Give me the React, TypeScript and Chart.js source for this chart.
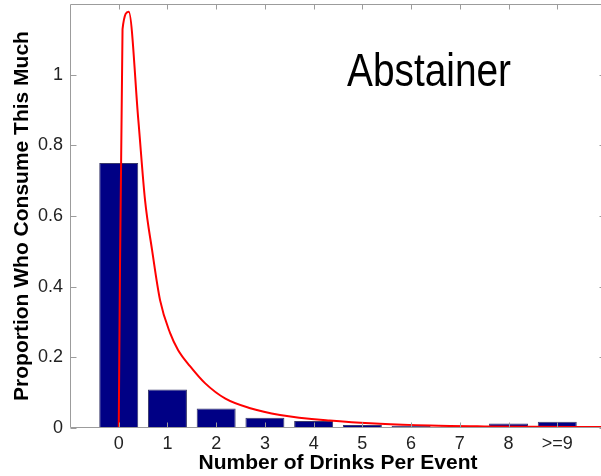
import { useEffect, useRef } from "react";
import { Chart, registerables } from "chart.js";

Chart.register(...registerables);

// Drinks-per-event categories and their labels
const drinkCategories = [0, 1, 2, 3, 4, 5, 6, 7, 8, 9];
const categoryLabels = ["0", "1", "2", "3", "4", "5", "6", "7", "8", ">=9"];

// Observed proportion of abstainers in each category
const observedProportions = [0.75, 0.109, 0.055, 0.029, 0.02, 0.0085, 0.0065, 0.004, 0.013, 0.018];

// Fitted density curve (x in drinks, y in proportion)
const fitX = [0, 0.078, 0.205, 0.402, 0.54, 0.684, 0.848, 1.053, 1.217, 1.463, 1.77, 2.19, 2.7, 3.31, 4.33, 5.36, 6.39, 7.5, 8.5, 10];
const fitY = [0, 1.129, 1.178, 0.872, 0.645, 0.504, 0.362, 0.269, 0.221, 0.175, 0.127, 0.083, 0.056, 0.037, 0.021, 0.0118, 0.0068, 0.0045, 0.0035, 0.0025];

const yTickValues = [0, 0.2, 0.4, 0.6, 0.8, 1];

const panelTitle = "Abstainer";
const xTitle = "Number of Drinks Per Event";
const yTitle = "Proportion Who Consume This Much";

const FONT = "'Liberation Sans', Arial, Helvetica, sans-serif";

// Box frame with inward-pointing tick marks on all four sides, plus the panel title
const framePlugin = {
  id: "boxFrame",
  afterDatasetsDraw(chart: any) {
    const { ctx, chartArea: a, scales } = chart;
    const x = scales.x;
    const y = scales.y;
    const l = Math.round(a.left) + 0.5;
    const r = Math.round(a.right) - 0.5;
    const t = Math.round(a.top) + 0.5;
    const b = Math.round(a.bottom) - 0.5;
    ctx.save();
    ctx.strokeStyle = "#9c9c9c";
    ctx.lineWidth = 1;
    ctx.beginPath();
    ctx.rect(l, t, r - l, b - t);
    drinkCategories.forEach((v) => {
      const px = Math.round(x.getPixelForValue(v)) + 0.5;
      ctx.moveTo(px, b);
      ctx.lineTo(px, b - 5);
      ctx.moveTo(px, t);
      ctx.lineTo(px, t + 5);
    });
    yTickValues.forEach((v) => {
      const py = Math.round(y.getPixelForValue(v)) + 0.5;
      ctx.moveTo(l, py);
      ctx.lineTo(l + 6, py);
      ctx.moveTo(r, py);
      ctx.lineTo(r - 6, py);
    });
    ctx.stroke();

    ctx.fillStyle = "#000";
    ctx.font = `47px ${FONT}`;
    ctx.textBaseline = "alphabetic";
    ctx.textAlign = "left";
    const w = ctx.measureText(panelTitle).width;
    ctx.translate(347, 86);
    ctx.scale(164 / w, 1);
    ctx.fillText(panelTitle, 0, 0);
    ctx.restore();
  },
};

export default function App() {
  const canvasRef = useRef<HTMLCanvasElement | null>(null);

  useEffect(() => {
    document.body.style.margin = "0";
    const canvas = canvasRef.current;
    if (!canvas) return;

    const chart = new Chart(canvas, {
      type: "bar",
      data: {
        datasets: [
          {
            type: "line",
            data: fitX.map((v, i) => ({ x: v, y: fitY[i] })),
            borderColor: "#ff0000",
            borderWidth: 2,
            pointRadius: 0,
            cubicInterpolationMode: "monotone",
            order: 0,
          } as any,
          {
            type: "bar",
            data: drinkCategories.map((v, i) => ({ x: v, y: observedProportions[i] })),
            backgroundColor: "#000085",
            borderColor: "#3a3a6a",
            borderWidth: 1,
            categoryPercentage: 1,
            barPercentage: 0.8,
            order: 1,
          } as any,
        ],
      },
      options: {
        responsive: false,
        animation: false,
        layout: { padding: { top: 4, right: 1, left: 0, bottom: 0 } },
        plugins: { legend: { display: false }, tooltip: { enabled: false } },
        scales: {
          x: {
            type: "linear",
            min: -1,
            max: 10,
            offset: false,
            grid: { display: false, drawTicks: false, offset: false },
            border: { display: false },
            afterBuildTicks: (s: any) => {
              s.ticks = drinkCategories.map((v) => ({ value: v }));
            },
            afterFit: (s: any) => {
              s.height = 48;
              s.paddingLeft = 0;
              s.paddingRight = 0;
            },
            ticks: {
              autoSkip: false,
              maxRotation: 0,
              padding: 5,
              color: "#222",
              font: { family: FONT, size: 18 },
              callback: (v: any) => {
                const i = drinkCategories.indexOf(Number(v));
                return i >= 0 ? categoryLabels[i] : "";
              },
            },
            title: {
              display: true,
              text: xTitle,
              color: "#000",
              font: { family: FONT, size: 21, weight: "bold" },
              padding: { top: 0, bottom: 0 },
            },
          },
          y: {
            type: "linear",
            min: 0,
            max: 1.2,
            grid: { display: false, drawTicks: false },
            border: { display: false },
            afterBuildTicks: (s: any) => {
              s.ticks = yTickValues.map((v) => ({ value: v }));
            },
            afterFit: (s: any) => {
              s.width = 70;
              s.paddingTop = 0;
              s.paddingBottom = 0;
            },
            ticks: {
              padding: 7,
              color: "#222",
              font: { family: FONT, size: 18 },
              callback: (v: any) => String(v),
            },
            title: {
              display: true,
              text: yTitle,
              color: "#000",
              font: { family: FONT, size: 21, weight: "bold" },
              padding: { top: 10, bottom: 0 },
            },
          },
        },
      },
      plugins: [framePlugin],
    } as any);

    return () => chart.destroy();
  }, []);

  return (
    <div style={{ width: 601, height: 476, overflow: "hidden", background: "#fff" }}>
      <canvas ref={canvasRef} width={607} height={476} style={{ display: "block" }} />
    </div>
  );
}
